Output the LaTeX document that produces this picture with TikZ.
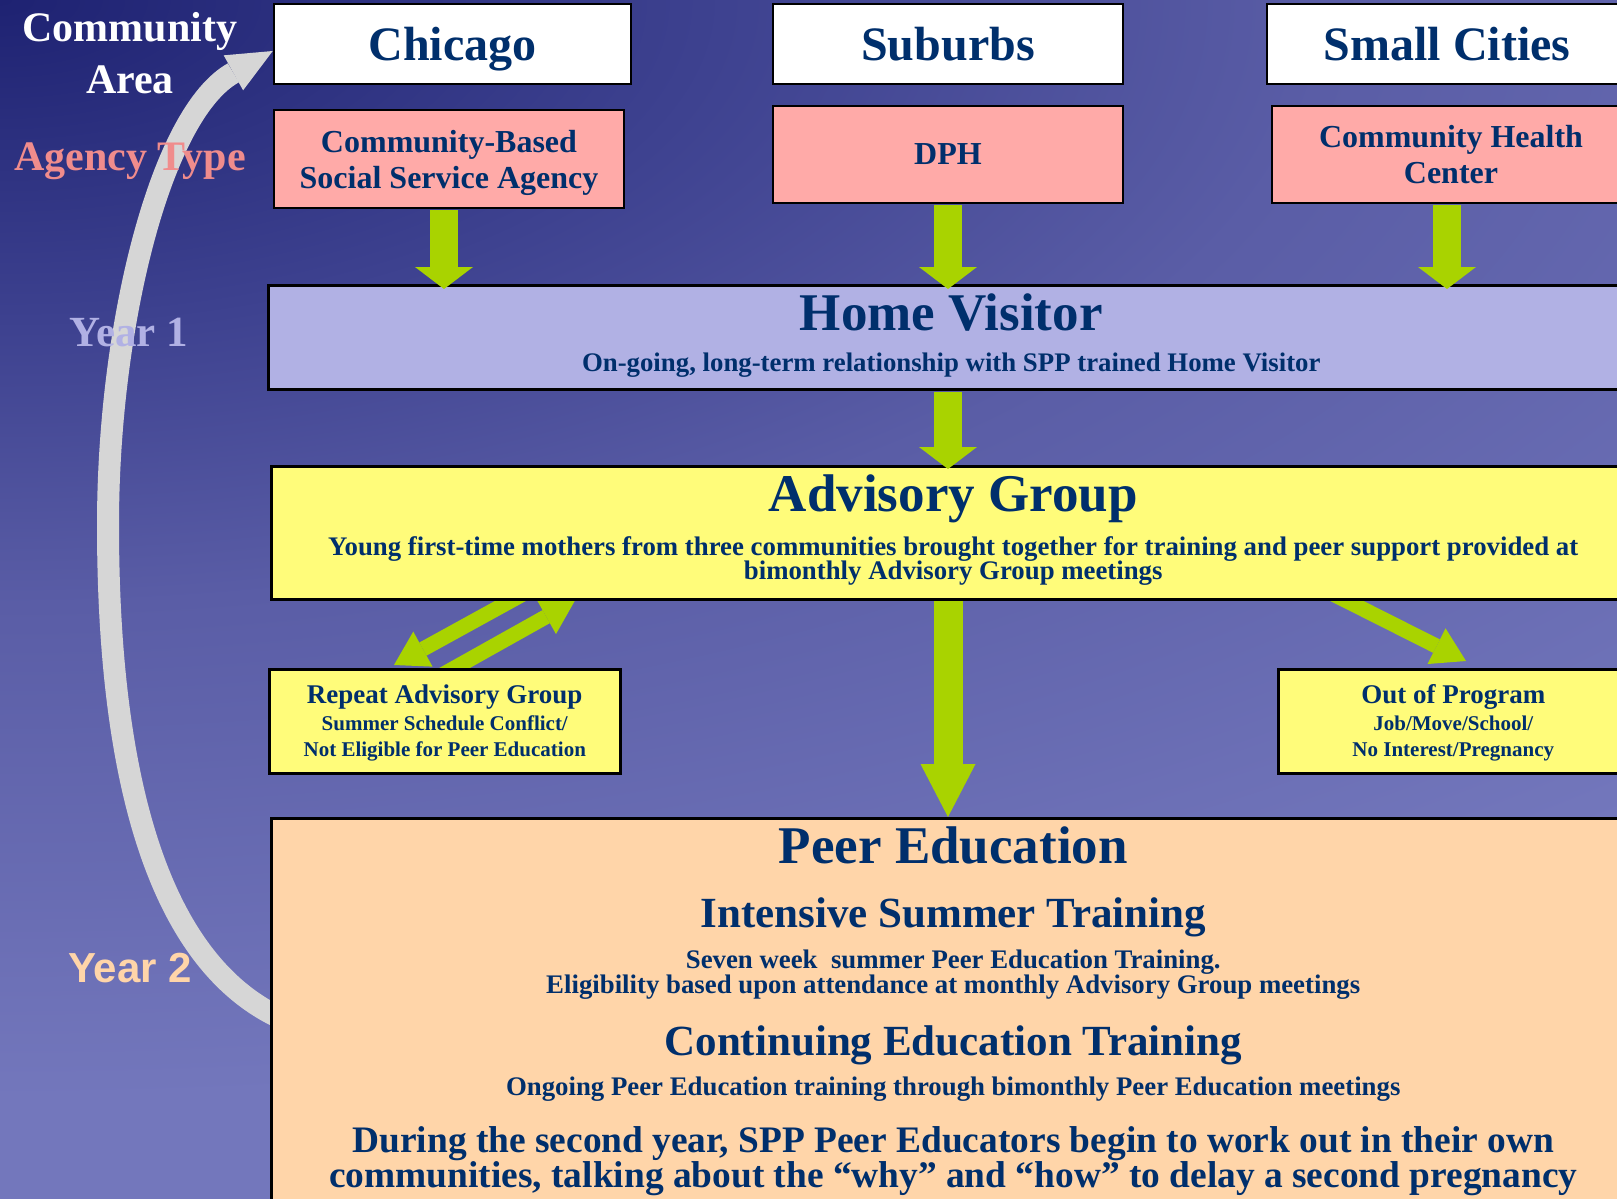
\documentclass[tikz,border=0pt]{standalone}
\usepackage{fontspec}
\setmainfont{Liberation Serif}
\newfontfamily\arialfont{Liberation Sans}
\usetikzlibrary{arrows.meta}
\pgfdeclarelayer{backdrop}
\pgfdeclarelayer{links}
\pgfsetlayers{backdrop,links,main}

\definecolor{navytext}{HTML}{002F6C}
\definecolor{bgtop}{HTML}{1E2272}
\definecolor{bgdeep}{HTML}{3E4290}
\definecolor{bgmid}{HTML}{5A5DA6}
\definecolor{bgbot}{HTML}{7377BC}
\definecolor{agencyfill}{HTML}{FFAAA8}
\definecolor{visitfill}{HTML}{B1B1E4}
\definecolor{groupfill}{HTML}{FFFC7A}
\definecolor{peerfill}{HTML}{FFD5A9}
\definecolor{arrowgreen}{HTML}{A9D300}
\definecolor{cyclegray}{HTML}{D6D6D6}
\definecolor{agencypink}{HTML}{F08C8C}

\pgfdeclareradialshading{slideglow}{\pgfpoint{0bp}{0bp}}{color(0bp)=(bgtop); color(7.5bp)=(bgdeep); color(13.75bp)=(bgmid); color(25bp)=(bgbot); color(50bp)=(bgbot)}

\newcommand{\fsize}[2]{\fontsize{#1}{#2}\selectfont}

\begin{document}
\begin{tikzpicture}[x=1pt, y=-1pt, text=navytext, font=\bfseries]
	\tikzstyle{plainbox}=[draw=black, line width=2.5pt, inner sep=0pt, align=center]
	\tikzstyle{areabox}=[plainbox, fill=white, minimum width=350pt, minimum height=80pt, text depth=0pt, font={\bfseries\fsize{48}{50}}]
	\tikzstyle{agencybox}=[plainbox, fill=agencyfill, minimum width=350pt, minimum height=97pt, text depth=0pt, font={\bfseries\fsize{32}{36}}]
	\tikzstyle{stagebox}=[plainbox, anchor=north west, minimum width=1364pt]
	\tikzstyle{sidebox}=[plainbox, anchor=north west, fill=groupfill, minimum width=351pt, minimum height=104pt]
	\tikzstyle{textline}=[anchor=base, inner sep=0pt]
	\tikzstyle{titletext}=[textline, font={\bfseries\fsize{53}{53}}]
	\tikzstyle{headtext}=[textline, font={\bfseries\fsize{43}{43}}]
	\tikzstyle{notetext}=[textline, font={\bfseries\fsize{26.8}{27}}]
	\tikzstyle{bigtext}=[textline, font={\bfseries\fsize{37.4}{38}}]
	\tikzstyle{sidetitle}=[textline, font={\bfseries\fsize{27}{27}}]
	\tikzstyle{sidenote}=[textline, font={\bfseries\fsize{21}{21}}]
	\tikzstyle{sidelabel}=[textline, font={\bfseries\fsize{42}{42}}]
	\tikzstyle{fatarrow}=[draw=arrowgreen, line width=28pt, -{Triangle[width=58pt, length=22pt, line width=0pt]}]
	\tikzstyle{slantarrow}=[draw=arrowgreen, line width=15pt, -{Triangle[width=40pt, length=33pt, line width=0pt]}]
	\tikzstyle{cyclearrow}=[draw=cyclegray, line width=22pt, -{Triangle[width=40pt, length=45pt, line width=0pt]}]

	\useasboundingbox (0,0) rectangle (1617,1199);
	\begin{pgfonlayer}{backdrop}
		\begin{scope}
			\clip (0,0) rectangle (1617,1199);
			\fill[bgbot] (0,0) rectangle (1617,1199);
			\shade[shading=slideglow] (0,0) ellipse [x radius=2420pt, y radius=1100pt];
		\end{scope}
	\end{pgfonlayer}
	\clip (0,0) rectangle (1617,1199);

	\node[areabox, minimum width=357pt] (chicago) at (452.5,44) {Chicago};
	\node[areabox] (suburbs) at (948,44) {Suburbs};
	\node[areabox, minimum width=360pt] (smallcities) at (1447,44) {Small Cities};
	\node[agencybox, minimum height=98pt] (cbagency) at (449,159) {Community-Based\\Social Service Agency};
	\node[agencybox] (dph) at (948,154.5) {DPH};
	\node[agencybox, minimum width=358pt] (healthcenter) at (1451,154.5) {Community Health\\Center};
	\node[stagebox, fill=visitfill, minimum width=1366pt, minimum height=104pt] (homevisitor) at (267,284) {};
	\node[stagebox, fill=groupfill, minimum height=133pt] (advisory) at (270,465) {};
	\node[sidebox] (repeatgroup) at (268,668) {};
	\node[sidebox, minimum width=350pt] (outprogram) at (1277,668) {};
	\node[stagebox, fill=peerfill, minimum height=420pt] (peer) at (270,817) {};

	\node[titletext] (visittitle) at ([yshift=-46pt]homevisitor.north) {Home Visitor};
	\node[notetext] (visitnote) at ([yshift=-87pt]homevisitor.north) {On-going, long-term relationship with SPP trained Home Visitor};
	\node[titletext] (grouptitle) at ([yshift=-46pt]advisory.north) {Advisory Group};
	\node[notetext] (groupnote) at ([yshift=-90pt]advisory.north) {Young first-time mothers from three communities brought together for training and peer support provided at};
	\node[notetext] (groupnotecont) at ([yshift=-114pt]advisory.north) {bimonthly Advisory Group meetings};
	\node[sidetitle] (repeattitle) at ([yshift=-35pt]repeatgroup.north) {Repeat Advisory Group};
	\node[sidenote] (repeatnote) at ([yshift=-62pt]repeatgroup.north) {Summer Schedule Conflict/};
	\node[sidenote] (repeatnotecont) at ([yshift=-88pt]repeatgroup.north) {Not Eligible for Peer Education};
	\node[sidetitle] (outtitle) at ([yshift=-35pt]outprogram.north) {Out of Program};
	\node[sidenote] (outnote) at ([yshift=-62pt]outprogram.north) {Job/Move/School/};
	\node[sidenote] (outnotecont) at ([yshift=-88pt]outprogram.north) {No Interest/Pregnancy};
	\node[titletext] (peertitle) at ([yshift=-46pt]peer.north) {Peer Education};
	\node[headtext] (summerhead) at ([yshift=-110pt]peer.north) {Intensive Summer Training};
	\node[notetext] (summernote) at ([yshift=-151pt]peer.north) {Seven week\ \ summer Peer Education Training.};
	\node[notetext] (summernotecont) at ([yshift=-176pt]peer.north) {Eligibility based upon attendance at monthly Advisory Group meetings};
	\node[headtext] (continuehead) at ([yshift=-238pt]peer.north) {Continuing Education Training};
	\node[notetext] (continuenote) at ([yshift=-278pt]peer.north) {Ongoing Peer Education training through bimonthly Peer Education meetings};
	\node[bigtext] (secondyear) at ([yshift=-335pt]peer.north) {During the second year, SPP Peer Educators begin to work out in their own};
	\node[bigtext] (secondyearcont) at ([yshift=-370pt]peer.north) {communities, talking about the “why” and “how” to delay a second pregnancy};

	\node[sidelabel, text=white] (communitylabel) at (130,42) {Community};
	\node[sidelabel, text=white] (arealabel) at (130,93) {Area};
	\node[sidelabel, text=agencypink] (agencylabel) at (130,170) {Agency Type};
	\node[sidelabel, text=visitfill, font={\bfseries\fsize{43}{43}}] (yearone) at (129,346) {Year 1};
	\node[sidelabel, text=peerfill, font={\arialfont\bfseries\fsize{42}{42}}] (yeartwo) at (130,982) {Year 2};

	\draw[fatarrow] ([xshift=-5pt, yshift=-1pt]cbagency.south) -- ([xshift=-5pt, yshift=-5pt]cbagency.south |- homevisitor.north);
	\draw[fatarrow] ([yshift=-1pt]dph.south) -- ([yshift=-5pt]dph.south |- homevisitor.north);
	\draw[fatarrow] ([yshift=-1pt]smallcities |- healthcenter.south) -- ([yshift=-5pt]smallcities |- homevisitor.north);
	\draw[fatarrow] ([yshift=-1pt]dph.south |- homevisitor.south) -- ([yshift=-4pt]dph.south |- advisory.north);

	\begin{pgfonlayer}{links}
		\draw[cyclearrow] ([xshift=15pt, yshift=-203pt]peer.north west) .. controls (165,968) and (108,795) .. (108,525) .. controls (108,325) and (161,113) .. ([yshift=-7pt]chicago.west);
		\draw[fatarrow, line width=29pt, -{Triangle[width=55pt, length=53pt, line width=0pt]}] (dph.south |- advisory.south) -- (dph.south |- peer.north);
		\draw[slantarrow] ([xshift=254pt, yshift=7pt]advisory.south west) -- ([xshift=126pt, yshift=3pt]repeatgroup.north west);
		\draw[slantarrow] ([xshift=174pt, yshift=-7pt]repeatgroup.north west) -- ([xshift=305pt]advisory.south west);
		\draw[slantarrow] ([xshift=1064pt, yshift=6pt]advisory.south west) -- ([xshift=189pt, yshift=7pt]outprogram.north west);
	\end{pgfonlayer}
\end{tikzpicture}
\end{document}
